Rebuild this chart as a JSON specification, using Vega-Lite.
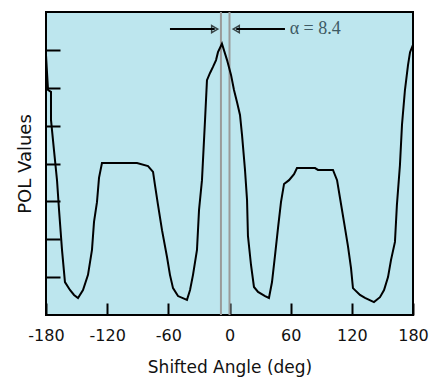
{
  "$schema": "https://vega.github.io/schema/vega-lite/v6.json",
  "width": 367,
  "height": 303,
  "autosize": {"type": "none"},
  "padding": {"left": 46, "top": 12, "right": 28, "bottom": 63},
  "background": "white",
  "config": {
    "view": {"fill": "#bde6ee", "stroke": "black", "strokeWidth": 2},
    "font": "DejaVu Sans"
  },
  "datasets": {
    "curve": [
      {"angle": -180, "pol": 6.86}, {"angle": -178.0, "pol": 5.94}, {"angle": -175.1, "pol": 5.89},
      {"angle": -175.1, "pol": 5.15}, {"angle": -172.2, "pol": 4.36}, {"angle": -169.2, "pol": 3.56},
      {"angle": -167.2, "pol": 2.77}, {"angle": -164.3, "pol": 1.72}, {"angle": -161.4, "pol": 0.87},
      {"angle": -156.5, "pol": 0.66}, {"angle": -152.5, "pol": 0.53}, {"angle": -148.6, "pol": 0.45},
      {"angle": -143.7, "pol": 0.66}, {"angle": -138.8, "pol": 1.06}, {"angle": -134.9, "pol": 1.72},
      {"angle": -132.9, "pol": 2.46}, {"angle": -130.0, "pol": 2.98}, {"angle": -128.0, "pol": 3.62},
      {"angle": -125.1, "pol": 4.01}, {"angle": -90.7, "pol": 4.01}, {"angle": -79.9, "pol": 3.93},
      {"angle": -75.0, "pol": 3.78}, {"angle": -73.1, "pol": 3.43}, {"angle": -70.1, "pol": 2.90},
      {"angle": -66.2, "pol": 2.24}, {"angle": -61.3, "pol": 1.53}, {"angle": -58.4, "pol": 1.06},
      {"angle": -55.4, "pol": 0.71}, {"angle": -50.5, "pol": 0.50}, {"angle": -41.7, "pol": 0.40},
      {"angle": -38.7, "pol": 0.66}, {"angle": -35.8, "pol": 1.06}, {"angle": -31.9, "pol": 1.72},
      {"angle": -29.9, "pol": 2.77}, {"angle": -27.0, "pol": 3.56}, {"angle": -24.0, "pol": 5.15},
      {"angle": -22.1, "pol": 6.20}, {"angle": -19.1, "pol": 6.39}, {"angle": -16.2, "pol": 6.55},
      {"angle": -13.2, "pol": 6.73}, {"angle": -11.3, "pol": 6.94}, {"angle": -7.4, "pol": 7.16},
      {"angle": -2.4, "pol": 6.73}, {"angle": 1.5, "pol": 6.34}, {"angle": 4.4, "pol": 5.94},
      {"angle": 7.4, "pol": 5.62}, {"angle": 10.3, "pol": 5.28}, {"angle": 12.3, "pol": 4.75},
      {"angle": 15.2, "pol": 3.83}, {"angle": 17.2, "pol": 3.04}, {"angle": 18.1, "pol": 2.09},
      {"angle": 21.1, "pol": 1.32}, {"angle": 24.0, "pol": 0.74}, {"angle": 28.0, "pol": 0.61},
      {"angle": 34.9, "pol": 0.50}, {"angle": 38.7, "pol": 0.45}, {"angle": 41.7, "pol": 0.87},
      {"angle": 44.6, "pol": 1.56}, {"angle": 47.6, "pol": 2.30}, {"angle": 50.5, "pol": 2.98},
      {"angle": 53.5, "pol": 3.46}, {"angle": 58.4, "pol": 3.56}, {"angle": 63.3, "pol": 3.72},
      {"angle": 66.2, "pol": 3.88}, {"angle": 83.9, "pol": 3.88}, {"angle": 86.8, "pol": 3.83},
      {"angle": 101.5, "pol": 3.83}, {"angle": 105.5, "pol": 3.56}, {"angle": 108.4, "pol": 3.09},
      {"angle": 112.3, "pol": 2.46}, {"angle": 116.2, "pol": 1.82}, {"angle": 119.2, "pol": 1.24},
      {"angle": 121.1, "pol": 0.71}, {"angle": 128.0, "pol": 0.53}, {"angle": 132.9, "pol": 0.45},
      {"angle": 141.7, "pol": 0.34}, {"angle": 147.6, "pol": 0.47}, {"angle": 151.6, "pol": 0.66},
      {"angle": 155.5, "pol": 1.00}, {"angle": 158.4, "pol": 1.45}, {"angle": 162.3, "pol": 1.93},
      {"angle": 164.2, "pol": 2.90}, {"angle": 167.2, "pol": 3.96}, {"angle": 169.2, "pol": 5.02},
      {"angle": 172.1, "pol": 5.94}, {"angle": 175.1, "pol": 6.60}, {"angle": 177.1, "pol": 6.94},
      {"angle": 180, "pol": 7.13}
    ],
    "marks": [{"angle": -8.4}, {"angle": 0}],
    "arrows": [
      {"from": -58.4, "to": -14.5, "y": 7.55, "shape": "triangle-right"},
      {"from": 54.4, "to": 6.6, "y": 7.55, "shape": "triangle-left"}
    ],
    "label": [{"angle": 59, "y": 7.55, "text": "α = 8.4"}]
  },
  "layer": [
    {
      "data": {"name": "marks"},
      "mark": {"type": "rule", "color": "#9a9a9a", "strokeWidth": 2},
      "encoding": {
        "x": {"field": "angle", "type": "quantitative", "scale": {"domain": [-180, 180], "nice": false, "zero": false},
          "axis": {"values": [-180, -120, -60, 0, 60, 120, 180], "tickSize": -12, "tickColor": "black", "tickWidth": 2,
            "domain": false, "grid": false, "labelExpr": "'' + datum.value", "labelFontSize": 16, "labelColor": "#111",
            "labelPadding": 24, "title": "Shifted Angle (deg)", "titleFontSize": 17, "titleFontWeight": "normal",
            "titleColor": "#111", "titlePadding": 16, "labelFlush": false}
        }
      }
    },
    {
      "data": {"name": "curve"},
      "mark": {"type": "line", "color": "black", "strokeWidth": 2, "clip": true},
      "encoding": {
        "x": {"field": "angle", "type": "quantitative"},
        "y": {"field": "pol", "type": "quantitative", "scale": {"domain": [0, 8], "nice": false},
          "axis": {"values": [1, 2, 3, 4, 5, 6, 7], "tickSize": -14, "tickColor": "black", "tickWidth": 2,
            "domain": false, "grid": false, "labels": false, "title": "POL Values", "titleFontSize": 18,
            "titleFontWeight": "normal", "titleColor": "#111", "titlePadding": 11}
        }
      }
    },
    {
      "data": {"name": "arrows"},
      "mark": {"type": "rule", "color": "black", "strokeWidth": 2},
      "encoding": {
        "x": {"field": "from", "type": "quantitative"},
        "x2": {"field": "to"},
        "y": {"field": "y", "type": "quantitative"}
      }
    },
    {
      "data": {"name": "arrows"},
      "mark": {"type": "point", "filled": false, "stroke": "black", "strokeWidth": 1.5, "size": 50},
      "encoding": {
        "x": {"field": "to", "type": "quantitative"},
        "y": {"field": "y", "type": "quantitative"},
        "shape": {"field": "shape", "type": "nominal", "scale": null}
      }
    },
    {
      "data": {"name": "label"},
      "mark": {"type": "text", "align": "left", "baseline": "middle", "font": "Liberation Serif", "fontSize": 18, "color": "#3e5a64"},
      "encoding": {
        "x": {"field": "angle", "type": "quantitative"},
        "y": {"field": "y", "type": "quantitative"},
        "text": {"field": "text"}
      }
    }
  ]
}
